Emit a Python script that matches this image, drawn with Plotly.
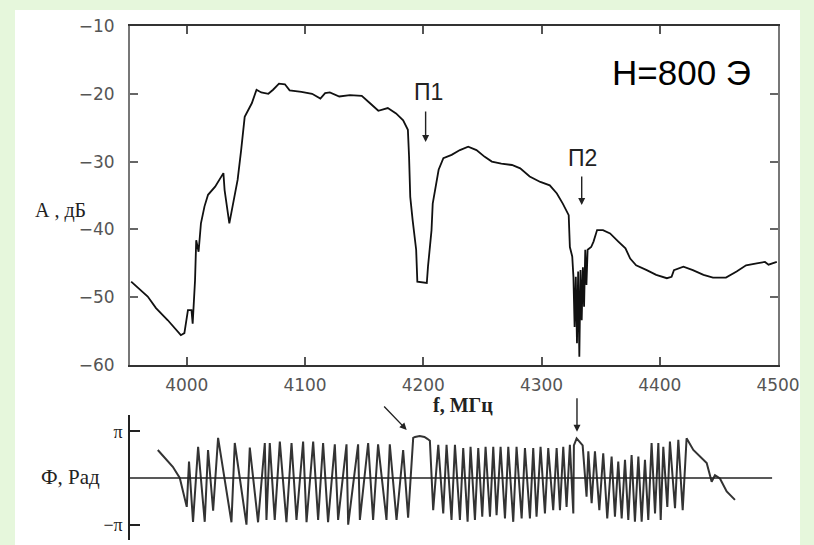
import numpy as np
import plotly.graph_objects as go

W, H = 814, 545

# ---- amplitude spectrum (top panel) ----
freq_mhz = [3953, 3967, 3974, 3984, 3995, 3998, 4001, 4004, 4005, 4007, 4008, 4010, 4012, 4015,
            4018, 4024, 4031, 4032, 4036, 4039, 4043, 4046, 4049, 4055, 4059, 4063, 4069, 4073,
            4078, 4083, 4087, 4097, 4106, 4113, 4117, 4121, 4129, 4138, 4148, 4155, 4162, 4170,
            4177, 4183, 4187, 4188, 4189, 4191, 4194, 4195, 4203, 4204, 4207, 4208, 4211, 4213,
            4217, 4224, 4231, 4238, 4245, 4252, 4258, 4266, 4275, 4282, 4290, 4299, 4307, 4313,
            4318, 4323, 4324, 4326, 4327, 4328, 4329, 4330, 4331, 4332, 4333, 4334, 4335, 4336,
            4337, 4338, 4339, 4342, 4344, 4347, 4352, 4358, 4365, 4371, 4375, 4380, 4389, 4397,
            4406, 4410, 4412, 4420, 4428, 4437, 4445, 4456, 4465, 4473, 4482, 4489, 4492, 4499]
amp_db = [-47.7, -49.9, -51.6, -53.4, -55.6, -55.3, -51.9, -51.9, -53.9, -47.5, -41.6, -43.3, -39.1, -36.6,
          -34.9, -33.7, -31.7, -34.2, -39.1, -36.2, -32.7, -28.3, -23.4, -21.4, -19.4, -19.8, -20.0, -19.4,
          -18.5, -18.6, -19.5, -19.7, -20.0, -20.7, -19.9, -19.8, -20.4, -20.2, -20.3, -21.4, -22.5, -22.1,
          -22.9, -23.9, -25.3, -29.3, -35.2, -38.6, -43.0, -47.7, -47.9, -45.5, -40.1, -36.2, -33.2, -31.2,
          -29.5, -29.0, -28.3, -27.8, -28.3, -29.3, -30.0, -30.3, -30.5, -31.0, -32.2, -33.0, -33.5, -34.7,
          -36.2, -37.9, -42.6, -44.0, -47.0, -54.4, -47.0, -56.8, -46.2, -58.8, -46.0, -53.4, -45.6, -51.4,
          -43.0, -48.2, -43.0, -42.6, -41.8, -40.1, -40.1, -40.6, -41.8, -42.8, -44.3, -45.3, -46.0, -46.7,
          -47.2, -47.0, -46.0, -45.5, -46.0, -46.7, -47.1, -47.1, -46.2, -45.3, -45.0, -44.8, -45.2, -44.8]

# ---- phase (bottom panel), in units of pi ----
phase_freq_mhz = [3975.5, 3988.2, 3994.1, 3998.3, 4000.0, 4001.9, 4005.3, 4009.6, 4015.2, 4018.0,
                  4022.3, 4026.5, 4037.8, 4040.6, 4050.5, 4053.3, 4060.3, 4066.0, 4067.4, 4070.2,
                  4074.4, 4078.7, 4084.3, 4088.6, 4092.8, 4098.4, 4101.3, 4106.9, 4111.1, 4115.3,
                  4119.5, 4125.2, 4128.0, 4135.1, 4136.5, 4144.9, 4146.4, 4153.4, 4157.6, 4161.8,
                  4168.9, 4171.7, 4177.4, 4183.0, 4187.2, 4191.5, 4193.0, 4197.0, 4201.0, 4203.5,
                  4205.6, 4208.4, 4212.7, 4216.9, 4219.7, 4223.9, 4226.8, 4231.0, 4233.8, 4237.5,
                  4240.0, 4243.7, 4246.5, 4249.9, 4252.7, 4256.4, 4259.2, 4262.0, 4265.4, 4269.1,
                  4271.9, 4276.1, 4278.9, 4283.2, 4286.0, 4290.2, 4293.0, 4295.8, 4299.2, 4302.9,
                  4305.7, 4309.9, 4312.8, 4315.6, 4318.4, 4321.2, 4324.0, 4326.9, 4327.4, 4329.7,
                  4332.5, 4334.8, 4338.1, 4339.6, 4342.4, 4345.2, 4348.9, 4352.2, 4355.6, 4359.3,
                  4362.1, 4364.9, 4367.8, 4370.6, 4373.4, 4376.2, 4379.0, 4381.9, 4384.7, 4387.5,
                  4390.3, 4393.1, 4396.0, 4398.8, 4400.8, 4403.0, 4406.4, 4408.6, 4412.9, 4415.7,
                  4419.4, 4422.7, 4428.4, 4434.0, 4439.7, 4443.9, 4446.7, 4450.9, 4456.6, 4463.6]
phase_pi = [0.60, 0.24, 0.00, -0.40, -0.62, 0.35, -0.94, 0.67, -0.94, 0.60,
            -0.70, 0.86, -0.95, 0.75, -1.00, 0.65, -0.95, 0.75, -0.90, 0.75,
            -0.90, 0.78, -0.95, 0.75, -0.90, 0.78, -0.95, 0.78, -0.90, 0.75,
            -0.95, 0.72, -0.90, 0.72, -1.00, 0.72, -0.90, 0.75, -0.90, 0.72,
            -0.90, 0.72, -0.90, 0.60, -0.85, 0.86, 0.88, 0.90, 0.88, 0.84,
            0.80, -0.69, 0.71, -0.76, 0.71, -0.90, 0.71, -0.90, 0.64, -0.94,
            0.67, -0.90, 0.64, -0.83, 0.67, -0.83, 0.67, -0.80, 0.67, -0.87,
            0.67, -0.94, 0.67, -0.87, 0.64, -0.87, 0.64, -0.83, 0.67, -0.76,
            0.64, -0.69, 0.64, -0.69, 0.67, -0.62, 0.71, -0.76, 0.70, 0.85,
            0.78, 0.70, -0.40, 0.57, -0.54, 0.57, -0.69, 0.53, -0.87, 0.46,
            -0.83, 0.35, -0.87, 0.39, -0.90, 0.49, -0.94, 0.46, -0.94, 0.39,
            -0.90, 0.75, -0.76, 0.75, -0.90, 0.67, -0.62, 0.78, -0.65, 0.82,
            -0.69, 0.85, 0.60, 0.46, 0.32, -0.08, 0.06, -0.01, -0.29, -0.47]
phase_rad = [v * np.pi for v in phase_pi]

x_ticks = [4000, 4100, 4200, 4300, 4400, 4500]
y_ticks = [-60, -50, -40, -30, -20, -10]
x_range = [3952, 4500]
y_range = [-60, -10]


def px(x):
    return x / W


def py(y):
    return 1 - y / H


fig = go.Figure()
fig.add_trace(go.Scatter(x=freq_mhz, y=amp_db, mode="lines",
                         line=dict(color="#111111", width=1.8),
                         xaxis="x", yaxis="y", showlegend=False, hoverinfo="skip"))
fig.add_trace(go.Scatter(x=phase_freq_mhz, y=phase_rad, mode="lines",
                         line=dict(color="#333333", width=2),
                         xaxis="x2", yaxis="y2", showlegend=False, hoverinfo="skip"))

tickfont = dict(family="DejaVu Sans", size=17, color="#555555")
serif = "Liberation Serif"

fig.update_layout(
    width=W, height=H,
    autosize=False,
    margin=dict(l=0, r=0, t=0, b=0, pad=0, autoexpand=False),
    paper_bgcolor="#e6f7dc",
    plot_bgcolor="rgba(0,0,0,0)",
    showlegend=False,
    xaxis=dict(domain=[px(130), px(778)], range=x_range, tickvals=x_ticks,
               ticks="inside", ticklen=8, tickwidth=1.5, tickcolor="#555555",
               mirror="ticks", showline=True, linecolor="#333333", linewidth=2,
               showgrid=False, zeroline=False, tickfont=tickfont, anchor="y",
               ticklabelstandoff=4, automargin=False),
    yaxis=dict(domain=[py(365), py(26)], range=y_range, tickvals=y_ticks,
               ticks="inside", ticklen=8, tickwidth=1.5, tickcolor="#666666",
               mirror="ticks", showline=True, linecolor="#777777", linewidth=2,
               showgrid=False, zeroline=False, tickfont=tickfont, anchor="x",
               ticklabelstandoff=10, automargin=False),
    xaxis2=dict(domain=[px(130), px(778)], range=x_range, visible=False, anchor="y2",
                automargin=False),
    yaxis2=dict(domain=[py(540), py(415)], range=[-1.33 * np.pi, 1.35 * np.pi],
                tickvals=[-np.pi, np.pi], ticktext=["−π", "π"],
                ticks="inside", ticklen=10, tickwidth=1.5, tickcolor="#222222",
                showline=True, linecolor="#222222", linewidth=1.5,
                showgrid=False, zeroline=False, anchor="x2",
                tickfont=dict(family=serif, size=18, color="#222222"),
                ticklabelstandoff=2, automargin=False),
)

# white inner area over the green patterned border
fig.add_shape(type="rect", xref="paper", yref="paper", x0=px(15), x1=px(800), y0=0, y1=py(10),
              fillcolor="white", line=dict(width=0), layer="below")

# zero line of the phase plot
fig.add_shape(type="line", xref="x2", yref="y2", x0=x_range[0], x1=4495, y0=0, y1=0,
              line=dict(color="#222222", width=1.5))

annos = [
    dict(text="H=800 Э", x=px(681), y=py(72), font=dict(family="Liberation Sans", size=35, color="black")),
    dict(text="П1", x=px(428), y=py(92), font=dict(family="Liberation Sans", size=23, color="#222222")),
    dict(text="П2", x=px(582), y=py(158), font=dict(family="Liberation Sans", size=23, color="#222222")),
    dict(text="А , дБ", x=px(61), y=py(210), font=dict(family=serif, size=20, color="#222222")),
    dict(text="<b>f, МГц</b>", x=px(463), y=py(405), font=dict(family=serif, size=20, color="#222222")),
    dict(text="Ф, Рад", x=px(70), y=py(477), font=dict(family=serif, size=21, color="#222222")),
]
for a in annos:
    fig.add_annotation(xref="paper", yref="paper", showarrow=False, xanchor="center", yanchor="middle", **a)

arrow_style = dict(showarrow=True, arrowhead=2, arrowsize=1, arrowwidth=1.4, arrowcolor="#222222", text="")
fig.add_annotation(x=4202, y=-27.1, xref="x", yref="y", ax=0, ay=-32, **arrow_style)
fig.add_annotation(x=4334, y=-36.4, xref="x", yref="y", ax=0, ay=-30, **arrow_style)
fig.add_annotation(x=4186, y=1.03 * np.pi, xref="x2", yref="y2", ax=-24, ay=-25, **arrow_style)
fig.add_annotation(x=4330, y=0.99 * np.pi, xref="x2", yref="y2", ax=0, ay=-35, **arrow_style)

pin_page = ("var gd=document.getElementById('{plot_id}');"
            "document.documentElement.style.margin='0';document.body.style.margin='0';"
            "document.body.style.overflow='hidden';"
            "gd.style.position='fixed';gd.style.left='0px';gd.style.top='0px';")

fig.write_html("out.html", post_script=pin_page, config={"displayModeBar": False})
